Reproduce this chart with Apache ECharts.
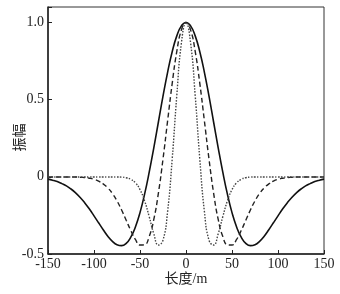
<!DOCTYPE html>
<html>
<head>
<meta charset="utf-8">
<script src="https://cdn.jsdelivr.net/npm/echarts@6/dist/echarts.min.js"></script>
<style>
  html, body { margin: 0; padding: 0; background: #fff; }
  #chart { width: 340px; height: 294px; }
</style>
</head>
<body>
<div id="chart"></div>
<script>
// 长度 (m)
const xs = [-150, -145, -140, -135, -130, -125, -120, -115, -110, -105, -100, -95, -90, -85, -80, -75, -70, -65, -60, -55, -50, -45, -40, -35, -30, -25, -20, -15, -10, -5,
    0, 5, 10, 15, 20, 25, 30, 35, 40, 45, 50, 55, 60, 65, 70, 75, 80, 85, 90, 95, 100, 105, 110, 115, 120, 125, 130, 135, 140, 145, 150];

// 实线 (宽)
const solidY = [-0.015, -0.022, -0.031, -0.044, -0.059, -0.079, -0.104, -0.134, -0.169, -0.209, -0.253, -0.298, -0.343, -0.385, -0.418, -0.440, -0.446, -0.431, -0.391, -0.325, -0.232, -0.112, 0.030, 0.188, 0.355, 0.522, 0.677, 0.810, 0.913, 0.978,
    1.0, 0.978, 0.913, 0.810, 0.677, 0.522, 0.355, 0.188, 0.030, -0.112, -0.232, -0.325, -0.391, -0.431, -0.446, -0.440, -0.418, -0.385, -0.343, -0.298, -0.253, -0.209, -0.169, -0.134, -0.104, -0.079, -0.059, -0.044, -0.031, -0.022, -0.015];

// 虚线 (中)
const dashY = [-0.001, -0.001, -0.001, -0.001, -0.001, -0.001, -0.001, -0.003, -0.005, -0.009, -0.016, -0.028, -0.046, -0.072, -0.108, -0.156, -0.215, -0.281, -0.348, -0.406, -0.442, -0.440, -0.387, -0.276, -0.105, 0.115, 0.362, 0.605, 0.812, 0.951,
    1.0, 0.951, 0.812, 0.605, 0.362, 0.115, -0.105, -0.276, -0.387, -0.440, -0.442, -0.406, -0.348, -0.281, -0.215, -0.156, -0.108, -0.072, -0.046, -0.028, -0.016, -0.009, -0.005, -0.003, -0.001, -0.001, -0.001, -0.001, -0.001, -0.001, -0.001];

// 点线 (窄)
const dotY = [-0.001, -0.001, -0.001, -0.001, -0.001, -0.001, -0.001, -0.001, -0.001, -0.001, -0.001, -0.001, -0.001, -0.001, -0.001, -0.001, -0.002, -0.006, -0.016, -0.039, -0.083, -0.156, -0.258, -0.369, -0.442, -0.411, -0.225, 0.115, 0.527, 0.867,
    1.0, 0.867, 0.527, 0.115, -0.225, -0.411, -0.442, -0.369, -0.258, -0.156, -0.083, -0.039, -0.016, -0.006, -0.002, -0.001, -0.001, -0.001, -0.001, -0.001, -0.001, -0.001, -0.001, -0.001, -0.001, -0.001, -0.001, -0.001, -0.001, -0.001, -0.001];

const xTicks = [-150, -100, -50, 0, 50, 100, 150];
const yTicks = [-0.5, 0, 0.5, 1.0];

const pairs = ys => xs.map((x, i) => [x, ys[i]]);

const chart = echarts.init(document.getElementById('chart'));
const serif = '"Liberation Serif", "Noto Sans CJK SC", serif';

const option = {
    backgroundColor: '#fff',
    animation: false,
    grid: {
        left: 48, right: 16, top: 7, bottom: 40,
        containLabel: false,
        outerBoundsMode: 'none',
        show: true, borderColor: '#333', borderWidth: 1
    },
    xAxis: {
        type: 'value',
        min: -150, max: 150, interval: 50,
        name: '长度/m',
        nameLocation: 'middle',
        nameGap: 18,
        nameMoveOverlap: false,
        nameTextStyle: {fontFamily: serif, fontSize: 14, color: '#222'},
        axisLine: {onZero: false, lineStyle: {color: '#222', width: 1.5}},
        axisTick: {inside: true, length: 4, lineStyle: {color: '#222'}},
        axisLabel: {
            fontFamily: serif, fontSize: 14, color: '#222', margin: 3,
            formatter: v => xTicks.includes(v) ? String(v) : ''
        },
        splitLine: {show: false}
    },
    yAxis: {
        type: 'value',
        min: -0.5, max: 1.1, interval: 0.5,
        name: '振幅',
        nameLocation: 'middle',
        nameGap: 21,
        nameMoveOverlap: false,
        nameTextStyle: {fontFamily: serif, fontSize: 14, color: '#222', padding: [0, 14, 0, 0]},
        axisLine: {onZero: false, lineStyle: {color: '#222', width: 1.5}},
        axisTick: {inside: true, length: 4, lineStyle: {color: '#222'}},
        axisLabel: {
            fontFamily: serif, fontSize: 14, color: '#222', margin: 4,
            formatter: v => {
                const t = yTicks.find(y => Math.abs(y - v) < 1e-6);
                if (t === undefined) return '';
                return t === 0 ? '0' : t.toFixed(1);
            }
        },
        splitLine: {show: false}
    },
    series: [
        {
            type: 'line', data: pairs(solidY), smooth: true, showSymbol: false,
            lineStyle: {color: '#111', width: 1.6, type: 'solid'}
        },
        {
            type: 'line', data: pairs(dashY), smooth: true, showSymbol: false,
            lineStyle: {color: '#222', width: 1.4, type: [5, 3]}
        },
        {
            type: 'line', data: pairs(dotY), smooth: true, showSymbol: false,
            lineStyle: {color: '#444', width: 1.4, type: [1.5, 1.5]}
        }
    ]
};

chart.setOption(option);
</script>
</body>
</html>
